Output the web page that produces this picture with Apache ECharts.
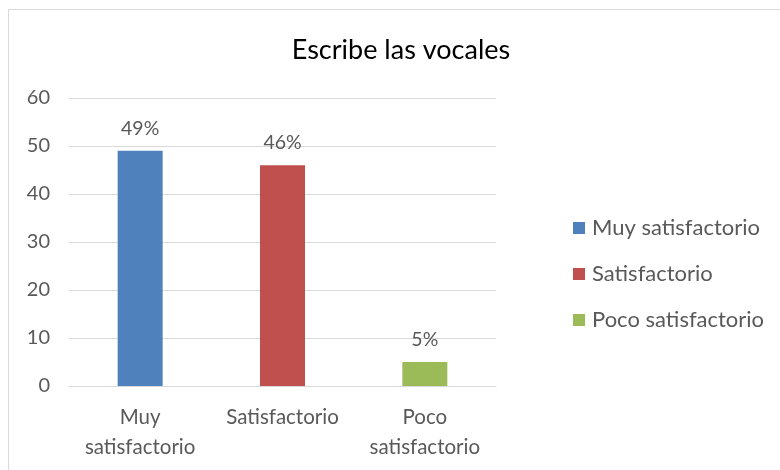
<!DOCTYPE html>
<html>
<head>
<meta charset="utf-8">
<script src="https://cdn.jsdelivr.net/npm/echarts@6/dist/echarts.min.js"></script>
<style>
  html, body { margin: 0; padding: 0; background: #fff; }
  #chart { width: 780px; height: 470px; }
</style>
</head>
<body>
<div id="chart"></div>
<script>
const title = "Escribe las vocales";
const categories = ["Muy\nsatisfactorio", "Satisfactorio", "Poco\nsatisfactorio"];
const seriesNames = ["Muy satisfactorio", "Satisfactorio", "Poco satisfactorio"];
const values = [49, 46, 5];
const labels = ["49%", "46%", "5%"];
const colors = ["#4f81bd", "#c0504d", "#9bbb59"];

const font = "Lato";
const textColor = "#595959";

// one series per category so each gets its own legend entry
const series = seriesNames.map((name, i) => ({
  name: name,
  type: "bar",
  stack: "all",
  barWidth: 45,
  itemStyle: { color: colors[i] },
  label: {
    show: true,
    position: "top",
    distance: 12,
    fontFamily: font,
    fontSize: 19.5,
    color: textColor,
    formatter: () => labels[i]
  },
  data: categories.map((c, j) => (j === i ? values[i] : null))
}));

const chart = echarts.init(document.getElementById("chart"));
chart.setOption({
  animation: false,
  graphic: [{
    type: "rect",
    shape: { x: 8.5, y: 9.5, width: 800, height: 500 },
    style: { fill: "none", stroke: "#d9d9d9", lineWidth: 1 },
    silent: true
  }],
  title: {
    text: title,
    left: 396,
    textAlign: "center",
    top: 32,
    textStyle: { fontFamily: font, fontSize: 27, fontWeight: "normal", color: "#000" }
  },
  legend: {
    orient: "vertical",
    left: 573,
    top: 217,
    padding: 0,
    itemWidth: 12,
    itemHeight: 12,
    itemGap: 24,
    icon: "rect",
    textStyle: { fontFamily: font, fontSize: 22, color: textColor, padding: [0, 0, 0, 2] },
    data: seriesNames
  },
  grid: { left: 69, right: 284, top: 98, bottom: 84 },
  xAxis: {
    type: "category",
    data: categories,
    axisLine: { lineStyle: { color: "#d9d9d9" } },
    axisTick: { show: false },
    axisLabel: {
      margin: 16,
      fontFamily: font,
      fontSize: 20.5,
      lineHeight: 30,
      color: textColor,
      interval: 0
    }
  },
  yAxis: {
    type: "value",
    min: 0,
    max: 60,
    interval: 10,
    axisLine: { show: false },
    axisTick: { show: false },
    axisLabel: { margin: 19, fontFamily: font, fontSize: 20, color: textColor },
    splitLine: { lineStyle: { color: "#d9d9d9", width: 1 } }
  },
  series: series
});
</script>
</body>
</html>
